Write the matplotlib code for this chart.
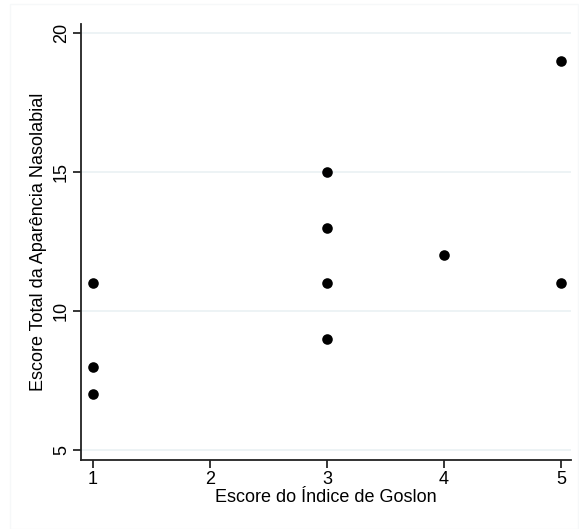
import matplotlib
matplotlib.use("Agg")
import matplotlib.pyplot as plt
from matplotlib.patches import Rectangle

# dados
goslon = [1, 1, 1, 3, 3, 3, 3, 4, 5, 5]
nasolabial = [11, 8, 7, 15, 13, 11, 9, 12, 19, 11]
yticks = [5, 10, 15, 20]
xticks = [1, 2, 3, 4, 5]

plt.rcParams["font.family"] = ["Liberation Sans", "DejaVu Sans"]

fig = plt.figure(figsize=(5.79, 5.29), dpi=100)
fig.patches.append(Rectangle((10 / 579, 0), 568 / 579, 525 / 529,
                             transform=fig.transFigure, fill=False,
                             edgecolor="#f6f8f9", linewidth=1))
ax = fig.add_axes([81 / 579, 69 / 529, 490 / 579, 436 / 529])

ax.scatter(goslon, nasolabial, s=58, color="black", zorder=3, linewidths=0)

ax.set_xlim(0.898, 5.085)
ax.set_ylim(4.64, 20.32)
ax.set_xticks(xticks)
ax.set_yticks(yticks)
ax.yaxis.grid(True, color="#eaf1f3", linewidth=1.2)
ax.set_axisbelow(True)

for lado in ["top", "right"]:
    ax.spines[lado].set_visible(False)
for lado in ["left", "bottom"]:
    ax.spines[lado].set_linewidth(1.3)
    ax.spines[lado].set_color("#222222")

ax.tick_params(direction="out", length=6, width=1.1, labelsize=13, pad=2)
plt.setp(ax.get_yticklabels(), rotation=90, va="center")

ax.set_xlabel("Escore do Índice de Goslon", fontsize=13, labelpad=1)
ax.set_ylabel("Escore Total da Aparência Nasolabial", fontsize=13, labelpad=4)

fig.savefig("out.png", dpi=100, facecolor="white")
